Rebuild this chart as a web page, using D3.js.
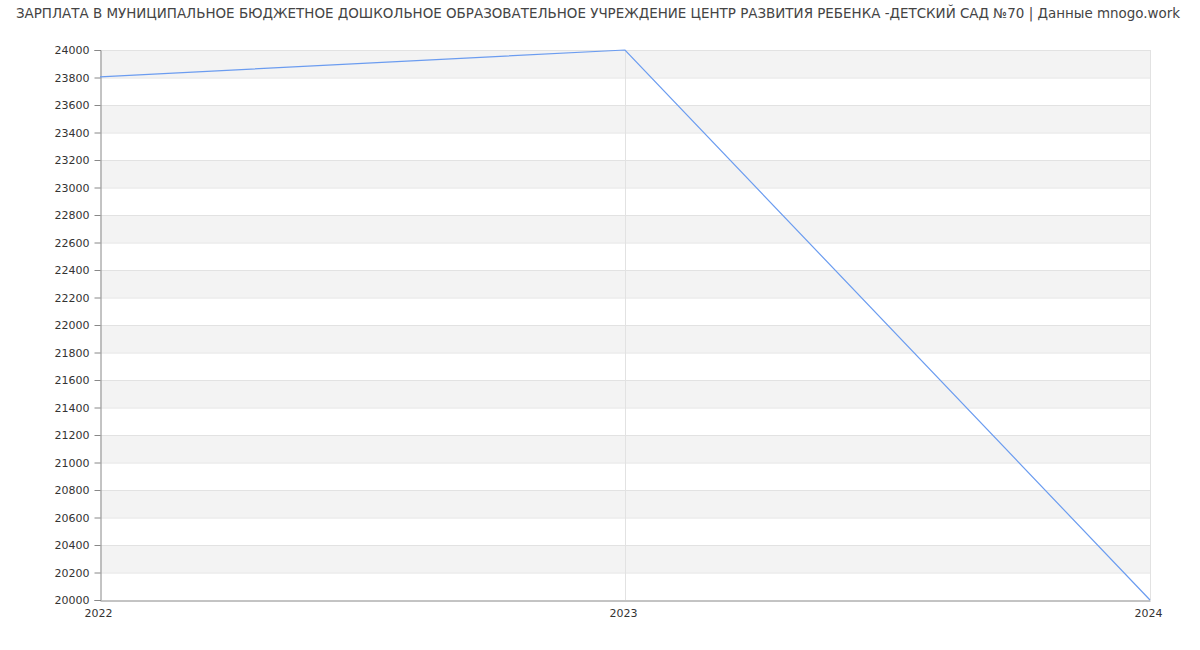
<!DOCTYPE html>
<html><head><meta charset="utf-8">
<script src="https://cdn.jsdelivr.net/npm/d3@7/dist/d3.min.js"></script>
<style>body{margin:0;background:#fff}svg{display:block}</style>
</head><body>
<svg id="c" width="1200" height="650"></svg>
<script>
const title = "ЗАРПЛАТА В МУНИЦИПАЛЬНОЕ БЮДЖЕТНОЕ ДОШКОЛЬНОЕ ОБРАЗОВАТЕЛЬНОЕ УЧРЕЖДЕНИЕ ЦЕНТР РАЗВИТИЯ РЕБЕНКА -ДЕТСКИЙ САД №70 | Данные mnogo.work";
const years = [2022, 2023, 2024];
const salary = [23805, 24000, 20000];
const yTicks = d3.range(20000, 24001, 200);

const svg = d3.select("#c");
const m = {l:100, r:1150, t:50, b:600};
const x = d3.scaleLinear().domain([2022, 2024]).range([m.l, m.r]);
const y = d3.scaleLinear().domain([20000, 24000]).range([m.b, m.t]);

// bands
const bands = [];
for (let i = 0; i < yTicks.length - 1; i++) {
  if (i % 2 === 1) bands.push([yTicks[i], yTicks[i+1]]);
}
svg.append("g").selectAll("rect").data(bands).join("rect")
  .attr("x", m.l).attr("width", m.r - m.l)
  .attr("y", d => y(d[1])).attr("height", d => y(d[0]) - y(d[1]))
  .attr("fill", "#f3f3f3");

// horizontal grid
svg.append("g").selectAll("line").data(yTicks.slice(1)).join("line")
  .attr("x1", m.l).attr("x2", m.r)
  .attr("y1", d => y(d) + 0.5).attr("y2", d => y(d) + 0.5)
  .attr("stroke", "#e2e2e2");
// vertical grid
svg.append("g").selectAll("line").data(years.slice(1)).join("line")
  .attr("x1", d => Math.round(x(d)) + 0.5).attr("x2", d => Math.round(x(d)) + 0.5)
  .attr("y1", m.t).attr("y2", m.b)
  .attr("stroke", "#e2e2e2");

// axes
const yAxis = d3.axisLeft(y).tickValues(yTicks).tickSize(6).tickPadding(5).tickFormat(d3.format("d"));
const gy = svg.append("g").attr("transform", `translate(${m.l + 0.5},0)`).call(yAxis);
gy.select(".domain").attr("stroke", "#888");
gy.selectAll(".tick line").attr("stroke", "#888");
gy.selectAll("text").attr("fill", "#333").style("font", "11px 'DejaVu Sans'").attr("dx", "0");

const xAxis = d3.axisBottom(x).tickValues(years).tickSize(0).tickPadding(9).tickFormat(d3.format("d"));
const gx = svg.append("g").attr("transform", `translate(0,${m.b + 0.5})`).call(xAxis);
gx.select(".domain").attr("stroke", "#888");
gx.selectAll("text").attr("fill", "#333").style("font", "11px 'DejaVu Sans'").attr("dx", "-2");

// line
const pts = years.map((d, i) => [d, salary[i]]);
svg.append("path").datum(pts)
  .attr("d", d3.line().x(d => x(d[0])).y(d => y(d[1])))
  .attr("fill", "none").attr("stroke", "#6b9cf0").attr("stroke-width", 1.2);

// title
svg.append("text").attr("x", 598).attr("y", 18).attr("text-anchor", "middle")
  .attr("fill", "#444").style("font", "13.45px 'DejaVu Sans'").text(title);
</script>
</body></html>
